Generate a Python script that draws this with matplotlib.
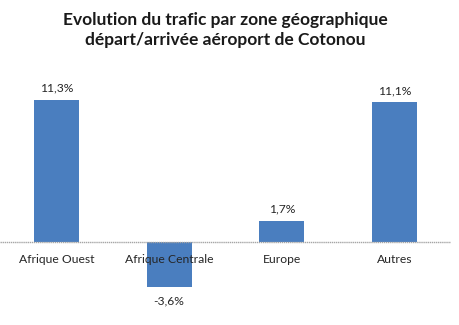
import numpy as np
import matplotlib.pyplot as plt

plt.rcParams['font.family'] = ['Lato', 'DejaVu Sans']

zones = ['Afrique Ouest', 'Afrique Centrale', 'Europe', 'Autres']
evolution = [11.3, -3.6, 1.7, 11.1]
labels = ['11,3%', '-3,6%', '1,7%', '11,1%']

fig = plt.figure(figsize=(4.59, 3.25), dpi=100)
ax = fig.add_axes([0.0, 0.046, 451 / 459, 0.769])

x = np.arange(len(zones))
ax.bar(x, evolution, width=0.4, color='#4A7EBF', zorder=2)
ax.axhline(0, color='#A6A6A6', lw=1, ls=(0, (1, 0.5)), zorder=3)

for xi, v, lab in zip(x, evolution, labels):
    off = 0.9 if v >= 0 else -1.1
    ax.text(xi, v + off, lab, ha='center', va='center', fontsize=8.7, color='#262626')
    ax.text(xi, -1.4, zones[xi], ha='center', va='center', fontsize=8.7, color='#262626', zorder=4)

ax.set_xlim(-0.5, 3.5)
ax.set_ylim(-5.4, 14.44)
ax.axis('off')

fig.text(0.49, 0.908, 'Evolution du trafic par zone géographique\ndépart/arrivée aéroport de Cotonou',
         ha='center', va='center', fontsize=12.5, fontweight='bold', linespacing=1.25, color='#1a1a1a')

fig.savefig('out.png', dpi=100)
